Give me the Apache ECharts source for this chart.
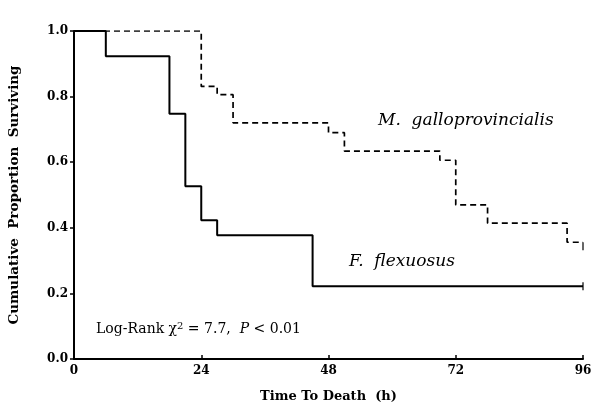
<!DOCTYPE html>
<html>
<head>
<meta charset="utf-8">
<script src="https://cdn.jsdelivr.net/npm/echarts@6/dist/echarts.min.js"></script>
<style>
  html, body { margin: 0; padding: 0; background: #fff; }
  #chart { width: 594px; height: 406px; }
</style>
</head>
<body>
<div id="chart"></div>
<script>
// Kaplan-Meier curves
var xTicks = [0, 24, 48, 72, 96];
var flexTimes = [0, 6, 18, 21, 24, 27, 45, 96];
var flexSurv = [1.0, 0.923, 0.748, 0.527, 0.423, 0.377, 0.222, 0.222];
var galloTimes = [0, 24, 27, 30, 48, 51, 69, 72, 78, 93, 96];
var galloSurv = [1.0, 0.831, 0.806, 0.72, 0.69, 0.634, 0.606, 0.47, 0.414, 0.356, 0.356];

function pairs(xs, ys) {
  return xs.map(function (x, i) { return [x, ys[i]]; });
}

var labelFont = { fontFamily: 'DejaVu Serif', fontWeight: 'bold', fontSize: 13, color: '#000' };

var chart = echarts.init(document.getElementById('chart'));
chart.setOption({
  animation: false,
  grid: { left: 74, right: 11, top: 31, bottom: 47, containLabel: false, outerBoundsMode: 'none' },
  xAxis: {
    type: 'value',
    min: 0,
    max: 96,
    interval: 24,
    name: 'Time To Death  (h)',
    nameLocation: 'middle',
    nameGap: 31,
    nameTextStyle: labelFont,
    axisLine: { show: true, lineStyle: { color: '#000', width: 2 } },
    axisTick: { show: true, inside: true, length: 4, lineStyle: { color: '#000', width: 1.5 } },
    axisLabel: Object.assign({}, labelFont, { margin: 6, fontSize: 12 }),
    splitLine: { show: false }
  },
  yAxis: {
    type: 'value',
    min: 0,
    max: 1.0,
    interval: 0.2,
    name: 'Cumulative  Proportion  Surviving',
    nameLocation: 'middle',
    nameGap: 53,
    nameTextStyle: Object.assign({}, labelFont, { fontSize: 13.5 }),
    axisLine: { show: true, lineStyle: { color: '#000', width: 2 } },
    axisTick: { show: true, length: 4, lineStyle: { color: '#000', width: 1.5 } },
    axisLabel: Object.assign({}, labelFont, { margin: 6, fontSize: 12,
      formatter: function (v) { return v.toFixed(1); } }),
    splitLine: { show: false }
  },
  series: [
    {
      name: 'F. flexuosus',
      type: 'line',
      step: 'end',
      symbol: 'none',
      data: pairs(flexTimes, flexSurv),
      lineStyle: { color: '#000', width: 2 }
    },
    {
      name: 'M. galloprovincialis',
      type: 'line',
      step: 'end',
      symbol: 'none',
      data: pairs(galloTimes, galloSurv),
      lineStyle: { color: '#000', width: 1.7, type: [6, 4] }
    },
    {
      name: 'censored',
      type: 'scatter',
      symbol: 'rect',
      symbolSize: [1.5, 8],
      itemStyle: { color: '#000' },
      data: [[96, flexSurv[flexSurv.length - 1]], [96, galloSurv[galloSurv.length - 1] - 0.012]]
    }
  ],
  graphic: [
    {
      type: 'text', left: 378, top: 112,
      style: { text: 'M.  galloprovincialis', font: 'italic 17px "DejaVu Serif"', fill: '#000' }
    },
    {
      type: 'text', left: 349, top: 253,
      style: { text: 'F.  flexuosus', font: 'italic 17px "DejaVu Serif"', fill: '#000' }
    },
    {
      type: 'text', left: 96, top: 321,
      style: {
        text: '{n|Log-Rank χ}{s|2}{n| = 7.7,  }{i|P}{n| < 0.01}',
        rich: {
          n: { fontFamily: 'DejaVu Serif', fontSize: 14, fill: '#000' },
          s: { fontFamily: 'DejaVu Serif', fontSize: 10, fill: '#000', verticalAlign: 'top', padding: [0, 0, 6, 0] },
          i: { fontFamily: 'DejaVu Serif', fontStyle: 'italic', fontSize: 14, fill: '#000' }
        }
      }
    }
  ]
});
</script>
</body>
</html>
